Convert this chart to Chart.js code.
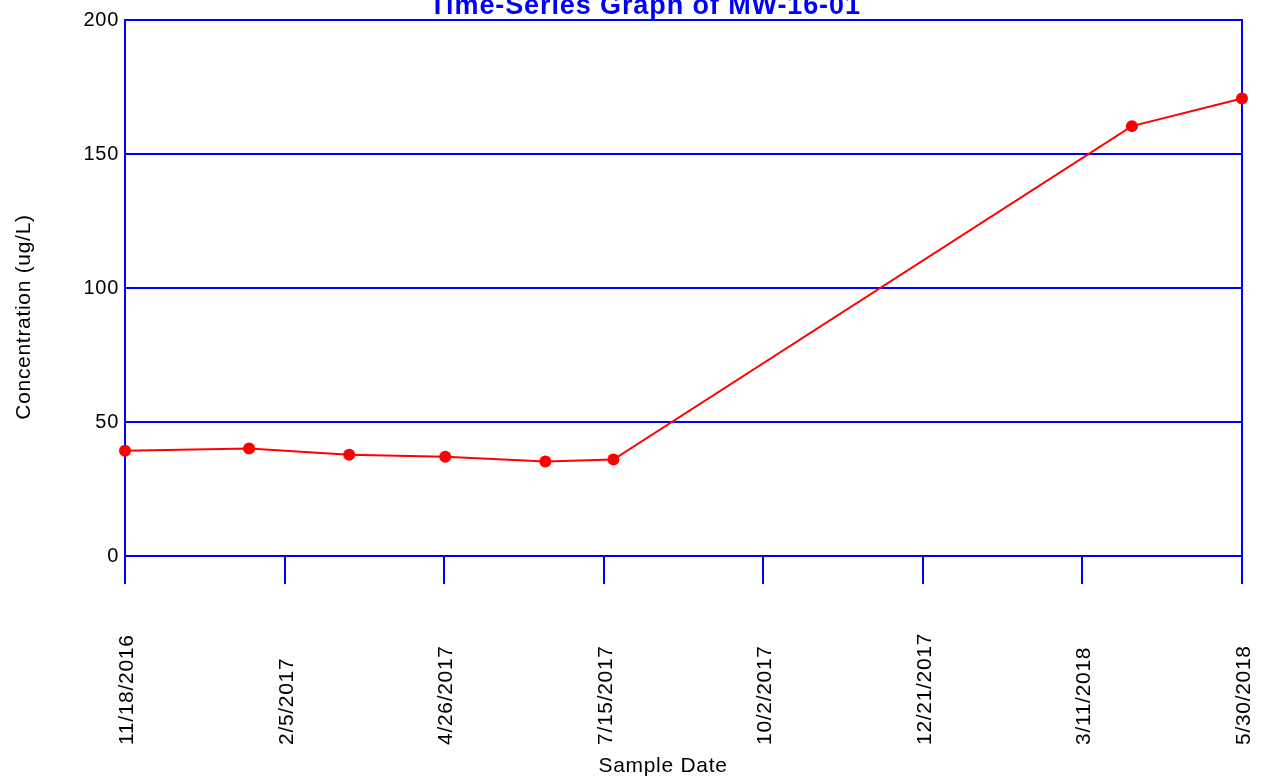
<!DOCTYPE html>
<html>
<head>
<meta charset="utf-8">
<script src="https://cdn.jsdelivr.net/npm/chart.js@4.4.1/dist/chart.umd.min.js"></script>
<style>
  html, body { margin: 0; padding: 0; background: #ffffff; overflow: hidden; }
  canvas { display: block; }
</style>
</head>
<body>
<canvas id="c" width="1265" height="784"></canvas>
<script>
// Labels
const chartTitle = 'Time-Series Graph of MW-16-01';
const xAxisTitle = 'Sample Date';
const yAxisTitle = 'Concentration (ug/L)';

// Samples
const sampleDates = ['11/18/2016', '1/19/2017', '3/10/2017', '4/27/2017', '6/16/2017', '7/20/2017', '4/5/2018', '5/30/2018'];
const concentrations = [39.3, 40.1, 37.8, 37.0, 35.3, 36.0, 160.4, 170.7];

// Axis ticks
const xTickLabels = ['11/18/2016', '2/5/2017', '4/26/2017', '7/15/2017', '10/2/2017', '12/21/2017', '3/11/2018', '5/30/2018'];
const yTickValues = [0, 50, 100, 150, 200];

const FONT = 'Arial, "Liberation Sans", sans-serif';
const BLUE = '#0000ff';
const RED = '#ff0000';

// dates -> days since the first axis date
function toDay(s) {
  const [m, d, y] = s.split('/').map(Number);
  return Date.UTC(y, m - 1, d) / 86400000;
}
const origin = toDay(xTickLabels[0]);
const xMin = 0;
const xMax = toDay(xTickLabels[xTickLabels.length - 1]) - origin;
const points = sampleDates.map((s, i) => ({ x: toDay(s) - origin, y: concentrations[i] }));

// spacing applied to the axis text the library draws itself
const spacingPlugin = {
  id: 'spacing',
  beforeDraw(chart) { chart.ctx.letterSpacing = '0.7px'; }
};

// top and right edges of the plot frame
const framePlugin = {
  id: 'frame',
  beforeDatasetsDraw(chart) {
    const { ctx, chartArea: a } = chart;
    ctx.save();
    ctx.strokeStyle = BLUE;
    ctx.lineWidth = 2;
    ctx.beginPath();
    ctx.moveTo(a.left, a.top);
    ctx.lineTo(a.right, a.top);
    ctx.lineTo(a.right, a.bottom);
    ctx.stroke();
    ctx.restore();
  }
};

// titles and rotated date labels
const textPlugin = {
  id: 'texts',
  afterDraw(chart) {
    const ctx = chart.ctx;
    const xs = chart.scales.x;
    ctx.save();
    ctx.fillStyle = '#000000';
    ctx.font = '21px ' + FONT;
    ctx.letterSpacing = '0.7px';
    ctx.textBaseline = 'alphabetic';

    ctx.textAlign = 'left';
    xs.ticks.forEach((t, i) => {
      const px = xs.getPixelForValue(t.value);
      ctx.save();
      ctx.translate(px + 8, 745);
      ctx.rotate(-Math.PI / 2);
      ctx.fillText(xTickLabels[i], 0, 0);
      ctx.restore();
    });

    ctx.textAlign = 'center';
    ctx.fillText(xAxisTitle, 663, 772);

    ctx.save();
    ctx.translate(29.5, 317);
    ctx.rotate(-Math.PI / 2);
    ctx.fillText(yAxisTitle, 0, 0);
    ctx.restore();

    ctx.fillStyle = BLUE;
    ctx.font = 'bold 27px ' + FONT;
    ctx.letterSpacing = '0.9px';
    ctx.fillText(chartTitle, 645, 14);
    ctx.restore();
  }
};

new Chart(document.getElementById('c'), {
  type: 'line',
  data: {
    datasets: [{
      data: points,
      borderColor: RED,
      borderWidth: 2,
      backgroundColor: RED,
      pointBackgroundColor: RED,
      pointBorderWidth: 0,
      pointRadius: 6,
      pointHoverRadius: 6,
      tension: 0,
      fill: false,
      clip: false
    }]
  },
  options: {
    responsive: false,
    animation: false,
    devicePixelRatio: 1,
    events: [],
    layout: { padding: { left: 0, top: 20, right: 23, bottom: 200 } },
    plugins: { legend: { display: false }, tooltip: { enabled: false }, title: { display: false } },
    scales: {
      x: {
        type: 'linear',
        min: xMin,
        max: xMax,
        // date ticks sit at equal intervals across the axis
        afterBuildTicks(scale) {
          const n = xTickLabels.length - 1;
          scale.ticks = xTickLabels.map((_, i) => ({ value: xMin + (xMax - xMin) * i / n }));
        },
        ticks: { display: false },
        grid: { drawOnChartArea: false, drawTicks: true, tickLength: 28, color: BLUE, lineWidth: 2 },
        border: { display: true, color: BLUE, width: 2 }
      },
      y: {
        min: yTickValues[0],
        max: yTickValues[yTickValues.length - 1],
        afterBuildTicks(scale) { scale.ticks = yTickValues.map(v => ({ value: v })); },
        afterFit(scale) { scale.width = 125; },
        ticks: { color: '#000000', font: { family: FONT, size: 20 }, padding: 6 },
        grid: { drawTicks: false, color: BLUE, lineWidth: 2 },
        border: { display: true, color: BLUE, width: 2 }
      }
    }
  },
  plugins: [spacingPlugin, framePlugin, textPlugin]
});
</script>
</body>
</html>
